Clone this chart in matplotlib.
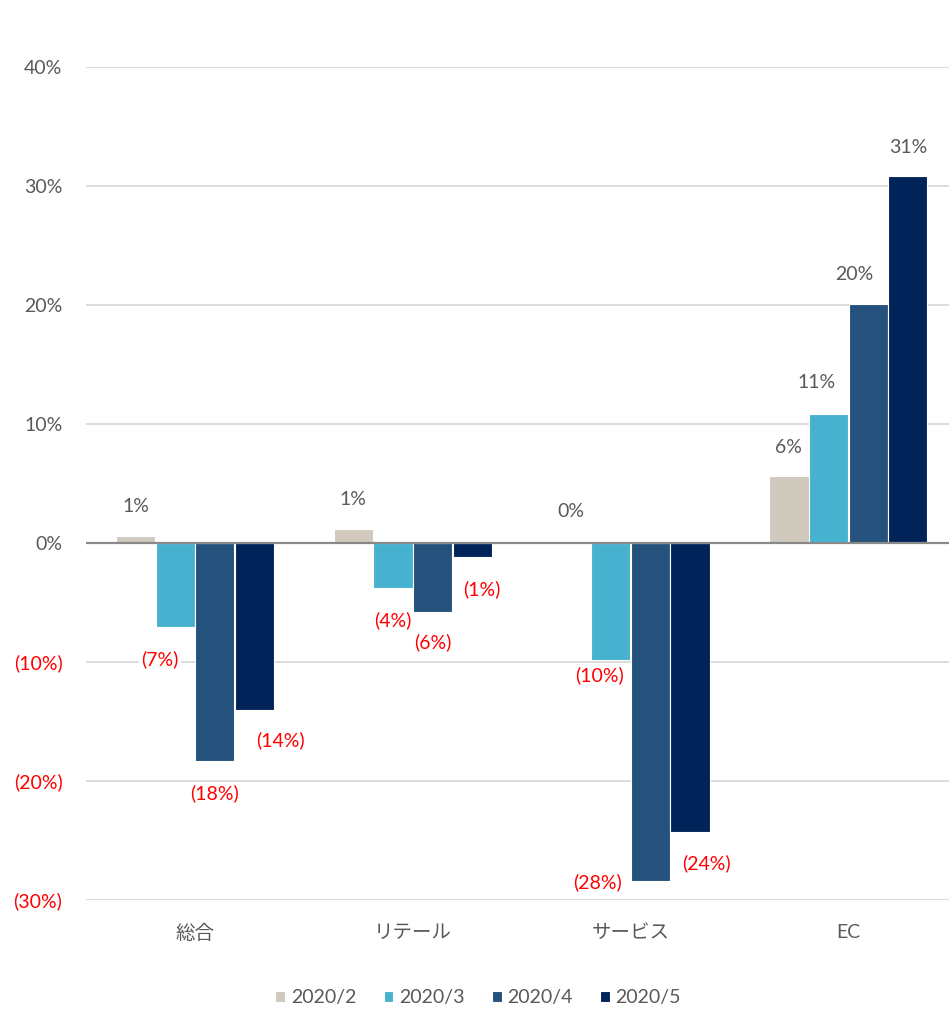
import matplotlib.pyplot as plt
import numpy as np

plt.rcParams['font.family'] = ['Lato', 'Noto Sans CJK JP', 'DejaVu Sans']

# Growth rates (%) by segment and month
categories = ['総合', 'リテール', 'サービス', 'EC']
series = ['2020/2', '2020/3', '2020/4', '2020/5']
feb = [0.6, 1.2, 0.2, 5.6]
mar = [-7.1, -3.8, -9.8, 10.8]
apr = [-18.3, -5.8, -28.4, 20.1]
may = [-14.0, -1.2, -24.3, 30.8]
yticks = [-30, -20, -10, 0, 10, 20, 30, 40]

colors = ['#CFC9BE', '#47B2D0', '#25527C', '#00245A']
gray = '#595959'
red = '#FF0000'

# label offsets (points) from the bar end, per series / category
label_dx = [
    [0, 0, 0, 0],
    [-11, 0, -8, -9],
    [0, 0, -38, -10],
    [19, 7, 12, 0],
]
label_dy = [
    [21, 21, 21, 21],
    [23, 23, 11, 23],
    [23, 22, 1, 21],
    [22, 23, 22, 21],
]


def fmt(v):
    v = round(v)
    return f'({abs(v):.0f}%)' if v < 0 else f'{v:.0f}%'


fig = plt.figure(figsize=(9.49, 10.1), dpi=100)
ax = fig.add_axes([0.0907, 0.1089, 0.918, 0.8248])

x = np.arange(len(categories))
step = 0.182
width = 0.18
data = [feb, mar, apr, may]

for i, (vals, name, col) in enumerate(zip(data, series, colors)):
    pos = x + (i - 1.5) * step
    ax.bar(pos, vals, width, color=col, edgecolor='white', linewidth=0.8,
           label=name, zorder=3)
    for j, (px, v) in enumerate(zip(pos, vals)):
        txt = fmt(v)
        ax.annotate(txt, (px, v), xytext=(label_dx[i][j], label_dy[i][j] if v >= 0 else -label_dy[i][j]),
                    textcoords='offset points', ha='center', va='center',
                    fontsize=14, color=gray if round(v) >= 0 else red,
                    bbox=dict(boxstyle='square,pad=0.1', fc='white', ec='none'),
                    zorder=5)

ax.axhline(0, color='#898989', linewidth=1.6, zorder=4)
ax.set_ylim(-30, 40)
ax.set_xlim(-0.5, 3.5)
ax.set_yticks(yticks)
ax.set_yticklabels([fmt(t) for t in yticks])
for lbl, t in zip(ax.get_yticklabels(), yticks):
    lbl.set_color(red if t < 0 else gray)
ax.set_xticks(x)
ax.set_xticklabels(categories, color=gray)
ax.tick_params(axis='both', length=0, labelsize=14)
ax.tick_params(axis='y', pad=17)
ax.tick_params(axis='x', pad=17)
ax.yaxis.grid(True, color='#D9D9D9', linewidth=1.3, zorder=0)
for s in ax.spines.values():
    s.set_visible(False)

leg = fig.legend(loc='center', bbox_to_anchor=(0.504, 0.012), ncol=4, frameon=False,
                 fontsize=14, handlelength=0.5, handleheight=0.5,
                 handletextpad=0.3, columnspacing=1.4)
for t in leg.get_texts():
    t.set_color(gray)

fig.savefig('out.png', dpi=100, facecolor='white')
